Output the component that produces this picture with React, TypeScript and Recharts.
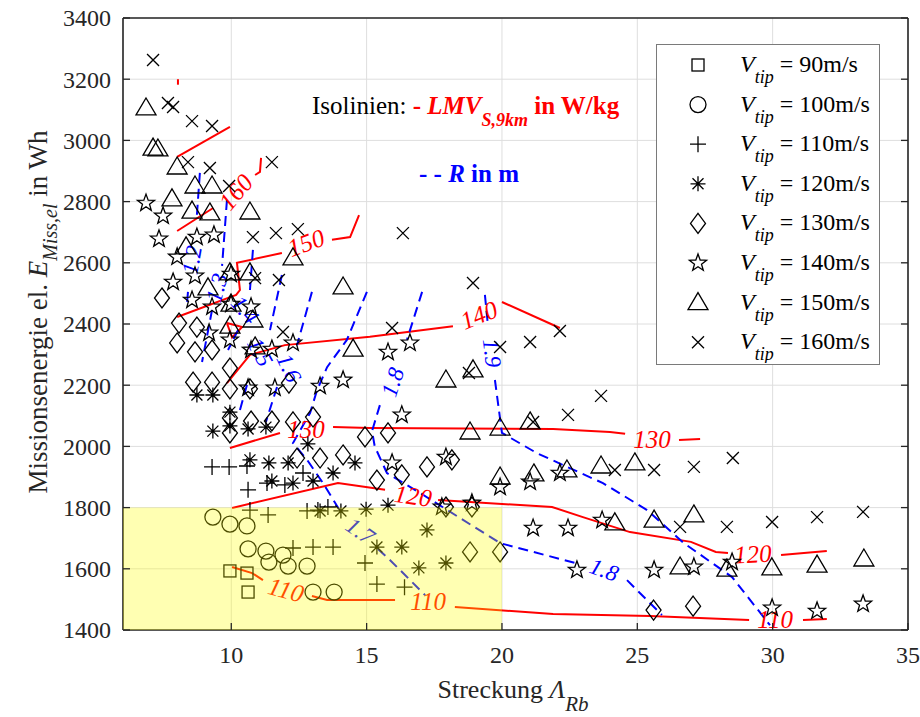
import React from 'react';
import { ScatterChart, Scatter, XAxis, YAxis, CartesianGrid, ReferenceArea, Legend } from 'recharts';

const FONT = '"Liberation Serif", "Times New Roman", Times, serif';
const AXIS = '#262626';

// ---------- axes ----------
const xTicks = [10, 15, 20, 25, 30, 35];
const yTicks = [1400, 1600, 1800, 2000, 2200, 2400, 2600, 2800, 3000, 3200, 3400];
const xDomain = [6, 35];
const yDomain = [1400, 3400];

// ---------- scatter series (Streckung, Missionsenergie) ----------
const vtipLabels = ['90', '100', '110', '120', '130', '140', '150', '160'];

const vtip90 = [[9.95, 1593], [10.58, 1586], [10.62, 1524]];
const vtip100 = [
  [9.32, 1769], [9.95, 1746], [10.58, 1740], [10.62, 1665], [11.28, 1658], [11.91, 1645],
  [11.39, 1622], [12.1, 1609], [12.8, 1609], [13.02, 1524], [13.8, 1524],
];
const vtip110 = [
  [9.29, 1933], [9.92, 1933], [10.58, 1936], [10.62, 1858], [11.32, 1880], [11.98, 1874],
  [12.65, 1913], [10.69, 1792], [11.36, 1776], [12.8, 1789], [13.2, 1792], [13.57, 1802],
  [12.28, 1668], [13.02, 1671], [13.76, 1671], [14.94, 1619], [15.38, 1550], [16.4, 1540],
];
const vtip120 = [
  [8.73, 2168], [9.32, 2168], [9.95, 2112], [9.95, 2067], [9.32, 2050], [10.62, 2057],
  [11.28, 2063], [12.83, 2008], [10.69, 1956], [11.39, 1946], [12.1, 1946], [11.5, 1887],
  [12.28, 1880], [13.02, 1887], [13.76, 1913], [14.57, 1946], [13.28, 1789], [14.05, 1789],
  [14.98, 1795], [15.79, 1808], [15.38, 1671], [16.3, 1671], [17.23, 1727], [16.93, 1603],
  [17.93, 1619],
];
const vtip130 = [
  [7.44, 2485], [8.07, 2403], [8.73, 2390], [8.0, 2338], [8.66, 2309], [9.29, 2315],
  [9.95, 2256], [8.59, 2210], [9.29, 2210], [9.95, 2188], [10.69, 2188], [12.13, 2207],
  [9.95, 2093], [9.95, 2044], [10.73, 2083], [11.5, 2083], [12.28, 2080], [13.02, 2096],
  [12.43, 1962], [13.28, 1962], [14.13, 1972], [14.94, 2031], [15.79, 2044], [15.38, 1890],
  [16.3, 1907], [17.23, 1933], [18.15, 1956], [17.93, 1802], [18.89, 1802], [18.82, 1655],
  [19.93, 1655], [25.6, 1465], [27.06, 1478],
];
const vtip140 = [
  [6.85, 2795], [7.48, 2753], [7.33, 2678], [8.0, 2619], [8.73, 2684], [9.36, 2691],
  [7.85, 2537], [8.66, 2557], [9.99, 2563], [8.55, 2478], [9.29, 2456], [9.99, 2465],
  [10.73, 2456], [9.18, 2371], [9.95, 2348], [10.73, 2315], [11.5, 2318], [12.28, 2338],
  [10.62, 2191], [11.61, 2191], [13.28, 2197], [14.13, 2217], [15.79, 2308], [16.6, 2338],
  [16.3, 2103], [15.94, 1946], [17.93, 1965], [17.78, 1802], [18.89, 1815], [19.93, 1867],
  [21.04, 1884], [22.14, 1913], [21.15, 1733], [22.44, 1733], [22.77, 1596], [23.7, 1759],
  [25.62, 1596], [27.09, 1606], [28.5, 1622], [29.98, 1472], [31.64, 1462], [33.34, 1485],
];
const vtip150 = [
  [6.85, 3106], [7.11, 2975], [7.29, 2972], [8.0, 2913], [8.66, 2851], [9.29, 2851],
  [7.81, 2809], [8.55, 2769], [9.21, 2763], [10.69, 2766], [8.33, 2652], [9.14, 2518],
  [9.95, 2567], [10.69, 2567], [12.28, 2616], [14.13, 2521], [9.99, 2465], [10.8, 2413],
  [9.95, 2393], [10.88, 2325], [14.5, 2318], [17.93, 2217], [18.93, 2250], [18.82, 2047],
  [19.93, 2060], [21.04, 2080], [19.93, 1900], [21.18, 1910], [22.4, 1923], [23.66, 1936],
  [24.91, 1946], [24.17, 1750], [25.62, 1759], [27.09, 1776], [26.58, 1606], [28.31, 1599],
  [29.97, 1603], [31.64, 1612], [33.37, 1632],
];
const vtip160 = [
  [7.11, 3263], [7.66, 3122], [7.85, 3109], [8.55, 3063], [9.29, 3047], [8.4, 2929],
  [9.21, 2910], [9.92, 2851], [11.5, 2929], [10.8, 2684], [11.65, 2697], [12.46, 2710],
  [10.88, 2550], [11.76, 2544], [11.91, 2374], [16.34, 2697], [15.94, 2387], [18.93, 2534],
  [19.93, 2325], [21.04, 2341], [22.14, 2377], [18.78, 2240], [23.66, 2165], [22.44, 2103],
  [21.15, 2080], [24.17, 1923], [25.62, 1923], [27.09, 1933], [28.53, 1962], [26.58, 1737],
  [28.31, 1737], [29.98, 1753], [31.64, 1769], [33.34, 1786],
];
const vtipSeries = [vtip90, vtip100, vtip110, vtip120, vtip130, vtip140, vtip150, vtip160];
const markerKinds = ['square', 'circle', 'plus', 'asterisk', 'diamond', 'star', 'triangle', 'x'];

// ---------- LMV iso-lines (red) ----------
const lmvTopA = [[8.03, 3182], [8.03, 3200]];
const lmvTopB = [[8.0, 2946], [9.95, 3044]];
const lmv160A = [[8.0, 2704], [9.33, 2779]];
const lmv160B = [[10.88, 2887], [11.06, 2897], [11.1, 2943]];
const lmv150A = [[8.0, 2423], [10.18, 2495], [10.32, 2511], [10.21, 2600], [11.87, 2632]];
const lmv150B = [[13.72, 2675], [14.39, 2684], [14.72, 2756]];
const lmv140A = [[9.84, 2207], [10.69, 2299], [11.98, 2331], [15.12, 2358], [18.19, 2393]];
const lmv140B = [[20.0, 2472], [22.14, 2387]];
const lmv140Loop = [[9.84, 2403], [10.4, 2390], [10.03, 2356], [9.84, 2403]];
const lmv130A = [[9.95, 1995], [11.8, 2044]];
const lmv130B = [[13.76, 2063], [15.12, 2060], [21.89, 2057], [23.99, 2047], [24.55, 2041]];
const lmv130C = [[26.54, 2021], [27.32, 2024]];
const lmv120A = [[10.03, 1799], [13.94, 1880], [15.68, 1858]];
const lmv120B = [[17.64, 1825], [21.85, 1802], [22.99, 1769], [24.73, 1720], [26.98, 1688], [27.9, 1655], [28.35, 1652]];
const lmv120C = [[30.31, 1645], [32.0, 1658]];
const lmv110A = [[10.03, 1606], [10.77, 1586], [11.17, 1563]];
const lmv110B = [[12.98, 1511], [13.54, 1498], [16.05, 1498]];
const lmv110C = [[18.26, 1475], [21.89, 1452], [25.47, 1446], [29.13, 1433]];
const lmv110D = [[31.12, 1433], [32.0, 1436]];
const lmvSegments = [
  lmvTopA, lmvTopB, lmv160A, lmv160B, lmv150A, lmv150B, lmv140A, lmv140B, lmv140Loop,
  lmv130A, lmv130B, lmv130C, lmv120A, lmv120B, lmv120C, lmv110A, lmv110B, lmv110C, lmv110D,
];
const lmvLabels = [
  { text: '160', x: 10.17, y: 2831 },
  { text: '150', x: 12.76, y: 2665 },
  { text: '140', x: 19.15, y: 2429 },
  { text: '130', x: 12.76, y: 2054 },
  { text: '130', x: 25.54, y: 2021 },
  { text: '120', x: 16.71, y: 1838 },
  { text: '120', x: 29.27, y: 1648 },
  { text: '110', x: 12.02, y: 1531 },
  { text: '110', x: 17.27, y: 1492 },
  { text: '110', x: 30.09, y: 1433 },
];
const lmvLabelAngles = [-50, -20, -22, 0, 0, 8, -3, 15, 0, 0];

// ---------- R iso-lines (blue, dashed) ----------
const r12A = [[8.84, 2894], [8.73, 2756]];
const r12B = [[8.4, 2505], [8.36, 2462]];
const r13A = [[9.84, 2805], [9.66, 2590]];
const r13B = [[9.29, 2446], [8.92, 2276]];
const r14A = [[10.8, 2642], [10.69, 2511]];
const r14B = [[10.25, 2380], [9.88, 2315]];
const r15A = [[11.87, 2560], [11.43, 2380]];
const r15B = [[10.58, 2201], [10.32, 2119]];
const r16A = [[12.98, 2505], [12.43, 2331]];
const r16B = [[11.69, 2194], [11.28, 2080]];
const r17A = [
  [15.01, 2505], [14.27, 2348], [13.54, 2259], [13.17, 2184], [12.91, 2109], [12.28, 2011],
  [12.8, 1956], [13.39, 1880], [14.09, 1779],
];
const r17B = [[15.42, 1665], [15.86, 1629], [17.16, 1514]];
const r18A = [[17.05, 2505], [16.49, 2348]];
const r18B = [[15.49, 2135], [15.2, 2050], [15.3, 2000], [15.75, 1913], [16.97, 1848], [19.93, 1684], [22.7, 1619]];
const r18C = [[24.62, 1563], [25.91, 1449]];
const r19A = [[19.37, 2495], [19.48, 2397]];
const r19B = [
  [19.74, 2217], [20.0, 2044], [21.29, 1978], [23.73, 1880], [25.36, 1792], [26.72, 1684],
  [28.5, 1573], [29.9, 1416],
];
const rSegments = [r12A, r12B, r13A, r13B, r14A, r14B, r15A, r15B, r16A, r16B, r17A, r17B, r18A, r18B, r18C, r19A, r19B];
const rLabels = [
  { text: '1.2', x: 8.55, y: 2609 },
  { text: '1.3', x: 9.47, y: 2518 },
  { text: '1.4', x: 10.5, y: 2446 },
  { text: '1.5', x: 11.06, y: 2308 },
  { text: '1.6', x: 12.13, y: 2256 },
  { text: '1.8', x: 15.97, y: 2210 },
  { text: '1.9', x: 19.63, y: 2305 },
  { text: '1.7', x: 14.76, y: 1723 },
  { text: '1.8', x: 23.77, y: 1596 },
];
const rLabelAngles = [-80, -75, 50, 62, 65, -72, 83, 35, 20];

// ---------- helpers ----------
const toPts = (arr: number[][]) => arr.map(([x, y]) => ({ x, y }));

const starPath = (cx: number, cy: number, R: number, r: number) => {
  let d = '';
  for (let k = 0; k < 10; k++) {
    const a = ((-90 + k * 36) * Math.PI) / 180;
    const rr = k % 2 === 0 ? R : r;
    d += (k === 0 ? 'M' : 'L') + (cx + rr * Math.cos(a)).toFixed(2) + ' ' + (cy + rr * Math.sin(a)).toFixed(2);
  }
  return d + 'Z';
};

const Marker = ({ kind, cx, cy }: { kind: string; cx: number; cy: number }) => {
  const common = { fill: 'none', stroke: '#000', strokeWidth: 1.3 };
  switch (kind) {
    case 'square':
      return <rect x={cx - 6} y={cy - 6} width={12} height={12} {...common} />;
    case 'circle':
      return <circle cx={cx} cy={cy} r={8} {...common} />;
    case 'plus':
      return <path d={`M${cx - 8} ${cy}H${cx + 8}M${cx} ${cy - 8}V${cy + 8}`} {...common} />;
    case 'asterisk':
      return (
        <path
          d={`M${cx - 7.5} ${cy}H${cx + 7.5}M${cx} ${cy - 7.5}V${cy + 7.5}M${cx - 5.5} ${cy - 5.5}L${cx + 5.5} ${cy + 5.5}M${cx - 5.5} ${cy + 5.5}L${cx + 5.5} ${cy - 5.5}`}
          {...common}
        />
      );
    case 'diamond':
      return <path d={`M${cx} ${cy - 10}L${cx + 7.5} ${cy}L${cx} ${cy + 10}L${cx - 7.5} ${cy}Z`} {...common} />;
    case 'star':
      return <path d={starPath(cx, cy, 9, 3.7)} {...common} />;
    case 'triangle':
      return <path d={`M${cx} ${cy - 10}L${cx + 10} ${cy + 7}L${cx - 10} ${cy + 7}Z`} {...common} />;
    default:
      return <path d={`M${cx - 6} ${cy - 6}L${cx + 6} ${cy + 6}M${cx - 6} ${cy + 6}L${cx + 6} ${cy - 6}`} {...common} />;
  }
};

const makeLabelShape = (color: string, size: number) => (p: any) => {
  const ang = p.payload?.angle ?? 0;
  return (
    <text
      x={p.cx}
      y={p.cy}
      transform={`rotate(${ang} ${p.cx} ${p.cy})`}
      textAnchor="middle"
      dominantBaseline="central"
      fill={color}
      fontStyle="italic"
      fontSize={size}
      fontFamily={FONT}
    >
      {p.payload?.text}
    </text>
  );
};

const Empty = () => <g />;

const LeftTick = (p: any) => (
  <g>
    <line x1={p.x} y1={p.y} x2={p.x + 7} y2={p.y} stroke={AXIS} strokeWidth={1.3} />
    <text x={p.x - 12} y={p.y} dy="0.35em" textAnchor="end" fontSize={24} fontFamily={FONT} fill={AXIS}>
      {p.payload.value}
    </text>
  </g>
);
const BottomTick = (p: any) => (
  <g>
    <line x1={p.x} y1={p.y} x2={p.x} y2={p.y - 7} stroke={AXIS} strokeWidth={1.3} />
    <text x={p.x} y={p.y + 33} textAnchor="middle" fontSize={24} fontFamily={FONT} fill={AXIS}>
      {p.payload.value}
    </text>
  </g>
);
const TopTick = (p: any) => <line x1={p.x} y1={p.y} x2={p.x} y2={p.y + 7} stroke={AXIS} strokeWidth={1.3} />;
const RightTick = (p: any) => <line x1={p.x} y1={p.y} x2={p.x - 7} y2={p.y} stroke={AXIS} strokeWidth={1.3} />;

const LegendBox = () => (
  <div style={{ width: 224, height: 321, background: '#fff', border: '1.5px solid #7a7a7a', boxSizing: 'border-box' }}>
    <svg width={221} height={318} style={{ display: 'block' }}>
      {vtipLabels.map((lab, i) => {
        const cy = 20 + i * 39.6;
        return (
          <g key={lab}>
            <Marker kind={markerKinds[i]} cx={41} cy={cy} />
            <text x={83} y={cy + 7} fontSize={24} fontFamily={FONT} fill="#000">
              <tspan fontStyle="italic">V</tspan>
              <tspan fontStyle="italic" fontSize={18} dy={11}>tip</tspan>
              <tspan dy={-11}>{' = ' + lab + 'm/s'}</tspan>
            </text>
          </g>
        );
      })}
    </svg>
  </div>
);

export default function App() {
  const lmvLabelData = lmvLabels.map((l, i) => ({ ...l, angle: lmvLabelAngles[i] }));
  const rLabelData = rLabels.map((l, i) => ({ ...l, angle: rLabelAngles[i] }));
  const axisLine = { stroke: AXIS, strokeWidth: 1.6 };
  return (
    <div style={{ position: 'absolute', left: 0, top: 0, fontFamily: FONT }}>
      <ScatterChart width={920} height={717} margin={{ top: 17, right: 11, bottom: 0, left: 0 }}>
        <CartesianGrid stroke="#dedede" strokeWidth={1} />
        <XAxis
          dataKey="x"
          type="number"
          domain={xDomain}
          ticks={xTicks}
          interval={0}
          allowDataOverflow
          height={87}
          tickSize={0}
          tickMargin={0}
          tickLine={false}
          tick={BottomTick}
          axisLine={axisLine}
        />
        <XAxis
          xAxisId="top"
          orientation="top"
          type="number"
          domain={xDomain}
          ticks={xTicks}
          interval={0}
          allowDataOverflow
          height={1}
          tickSize={0}
          tickMargin={0}
          tickLine={false}
          tick={TopTick}
          axisLine={axisLine}
        />
        <YAxis
          dataKey="y"
          type="number"
          domain={yDomain}
          ticks={yTicks}
          interval={0}
          allowDataOverflow
          width={123}
          tickSize={0}
          tickMargin={0}
          tickLine={false}
          tick={LeftTick}
          axisLine={axisLine}
        />
        <YAxis
          yAxisId="right"
          orientation="right"
          type="number"
          domain={yDomain}
          ticks={yTicks}
          interval={0}
          allowDataOverflow
          width={1}
          tickSize={0}
          tickMargin={0}
          tickLine={false}
          tick={RightTick}
          axisLine={axisLine}
        />

        {lmvSegments.map((seg, i) => (
          <Scatter
            key={'lmv' + i}
            data={toPts(seg)}
            line={{ stroke: '#ff0000', strokeWidth: 2 }}
            lineType="joint"
            shape={Empty}
            legendType="none"
            isAnimationActive={false}
          />
        ))}
        {rSegments.map((seg, i) => (
          <Scatter
            key={'r' + i}
            data={toPts(seg)}
            line={{ stroke: '#0000ff', strokeWidth: 2, strokeDasharray: '10 6' }}
            lineType="joint"
            shape={Empty}
            legendType="none"
            isAnimationActive={false}
          />
        ))}
        <Scatter data={lmvLabelData} shape={makeLabelShape('#ff0000', 25)} legendType="none" isAnimationActive={false} />
        <Scatter data={rLabelData} shape={makeLabelShape('#0000ff', 23)} legendType="none" isAnimationActive={false} />

        {vtipSeries.map((arr, i) => (
          <Scatter
            key={'v' + i}
            name={'V_tip = ' + vtipLabels[i] + 'm/s'}
            data={toPts(arr)}
            shape={(p: any) => <Marker kind={markerKinds[i]} cx={p.cx} cy={p.cy} />}
            isAnimationActive={false}
          />
        ))}

        <ReferenceArea
          x1={6}
          x2={20}
          y1={1400}
          y2={1800}
          fill="#ffff00"
          fillOpacity={0.3}
          stroke="none"
          ifOverflow="visible"
          zIndex={700}
        />

        <Legend
          layout="vertical"
          align="center"
          verticalAlign="middle"
          wrapperStyle={{ left: 656, top: 44, width: 224, height: 321 }}
          content={() => <LegendBox />}
        />

        <text x={312} y={114} fontSize={25} fontFamily={FONT} fill="#000">
          {'Isolinien: '}
          <tspan fill="#ff0000" fontWeight="bold">{'- '}</tspan>
          <tspan fill="#ff0000" fontWeight="bold" fontStyle="italic">LMV</tspan>
          <tspan fill="#ff0000" fontWeight="bold" fontStyle="italic" fontSize={18} dy={12}>S,9km</tspan>
          <tspan fill="#ff0000" fontWeight="bold" dy={-12}>{' in W/kg'}</tspan>
        </text>
        <text x={419} y={182} fontSize={25} fontFamily={FONT} fill="#0000ff" fontWeight="bold">
          {'- - '}
          <tspan fontStyle="italic">R</tspan>
          {' in m'}
        </text>

        <text x={513} y={698} textAnchor="middle" fontSize={26} fontFamily={FONT} fill={AXIS}>
          {'Streckung '}
          <tspan fontStyle="italic">Λ</tspan>
          <tspan fontStyle="italic" fontSize={21} dy={13}>Rb</tspan>
        </text>
        <text transform="translate(47 312) rotate(-90)" textAnchor="middle" fontSize={27} fontFamily={FONT} fill={AXIS}>
          {'Missionsenergie el. '}
          <tspan fontStyle="italic">E</tspan>
          <tspan fontStyle="italic" fontSize={20} dy={10}>Miss,el</tspan>
          <tspan dy={-10}>{' in Wh'}</tspan>
        </text>
      </ScatterChart>
    </div>
  );
}
